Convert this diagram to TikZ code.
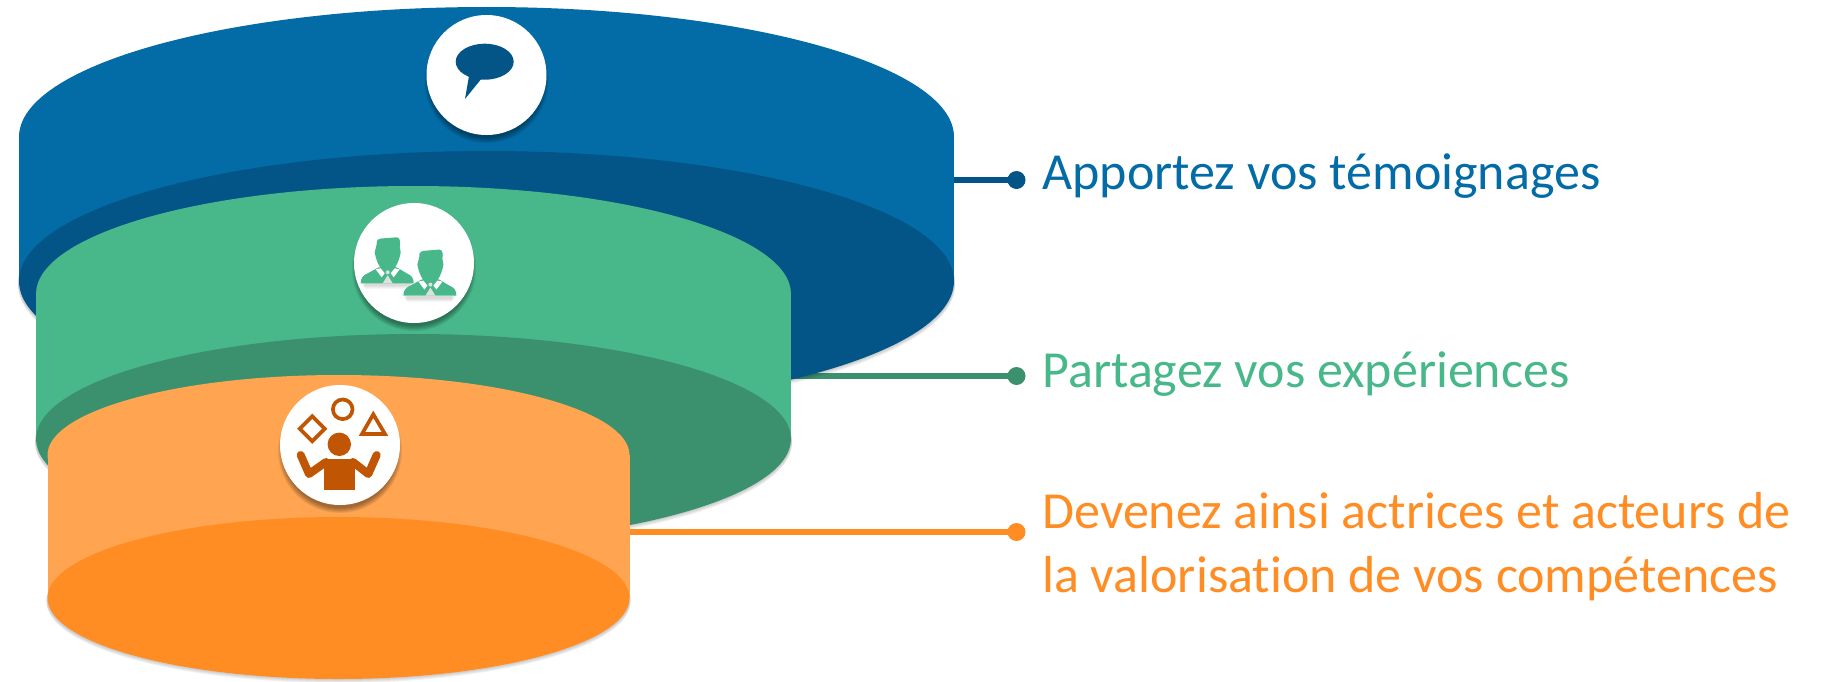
\documentclass[tikz,border=0pt]{standalone}
\usepackage{fontspec}
\setmainfont{Carlito}[Ligatures=NoCommon]
\usetikzlibrary{positioning}
\definecolor{blueA}{HTML}{036BA6}
\definecolor{blueB}{HTML}{045587}
\definecolor{greenA}{HTML}{48B88A}
\definecolor{greenB}{HTML}{3B916D}
\definecolor{orangeA}{HTML}{FFA552}
\definecolor{orangeB}{HTML}{FF8D24}
\definecolor{orangeC}{HTML}{C05504}
\tikzset{
  badge/.style={circle,fill=white,minimum size=60pt,inner sep=0pt},
  enddot/.style={circle,inner sep=0pt,outer sep=0pt,minimum size=9pt},
  lead/.style={line width=3pt},
  caption/.style={anchor=base west,inner sep=0pt,align=left,font=\fontsize{26}{32}\selectfont},
  toyline/.style={draw=orangeC,line width=1.85pt,fill=none},
  armline/.style={orangeC,line width=4pt,line cap=round,line join=round},
  pics/person/.style={code={
    \foreach \s in {1,2,3,4}{
      \fill[black,opacity=.035] (-27+\s,0) rectangle (26-\s,2+\s);
    }
    \fill[greenA] (-27,0) .. controls (-27,-5) and (-25,-8) .. (-20,-10) -- (-9,-16) -- (9,-16) -- (19,-10) .. controls (24,-8) and (26,-5) .. (26,0) -- cycle;
    \fill[greenA] (-11,-39) .. controls (-12,-44) and (-8,-45) .. (-4,-45) -- (9,-46) .. controls (12,-46) and (13,-42) .. (12,-37) -- (13,-31) .. controls (12,-25) and (10,-20) .. (8,-17) -- (7,-10) -- (-7,-10) -- (-8,-17) .. controls (-10,-20) and (-12,-25) .. (-13,-31) -- cycle;
    \fill[white] (-12,-14) -- (-7,-15) -- (-3,-10) -- (-6,-6) -- cycle;
    \fill[white] (12,-14) -- (7,-15) -- (3,-10) -- (6,-6) -- cycle;
    \fill[black!12] (0,-11) circle (2);
    \fill[black!12] (0,-8) -- (-5,0) -- (5,0) -- cycle;
  }},
}
% ombre douce sous les pastilles
\newcommand{\softshadow}[2]{
  \foreach \d in {0,1,...,5}{
    \fill[black,opacity=.07] (#1,#2+6) circle ({62-\d});
  }
}
% un tambour: cx, rx, haut, ry haut, bas, ry bas, couleurs
\newcommand{\drum}[8]{
  \foreach \s in {1,2,3,4}{
    \fill[black,opacity=.05] (#1,#5+\s) ellipse [x radius=#2+1,y radius=#6];
  }
  \fill[#7] (#1,#3) ellipse [x radius=#2,y radius=#4];
  \fill[#7] (#1-#2,#3) rectangle (#1+#2,#5);
  \fill[#8] (#1,#5) ellipse [x radius=#2,y radius=#6];
}
\begin{document}
\begin{tikzpicture}[x=0.5pt,y=-0.5pt]
\useasboundingbox (0,0) rectangle (1821,681);

% les traits passent sous les tambours
\node[enddot,fill=blueB] (dotA) at (1016.5,180) {};
\coordinate (startA) at (954,180);
\draw[lead,blueB] (startA) -- (dotA.center);
\node[enddot,fill=greenB] (dotB) at (1016.5,376) {};
\coordinate (startB) at (791,376);
\draw[lead,greenB] (startB) -- (dotB.center);
\node[enddot,fill=orangeB] (dotC) at (1016.5,532) {};
\coordinate (startC) at (629,532);
\draw[lead,orangeB] (startC) -- (dotC.center);

\drum{486.5}{467.5}{137}{130}{281}{130}{blueA}{blueB}
\drum{413.5}{377.5}{294}{108}{439}{105}{greenA}{greenB}
\drum{338.5}{291}{455}{80}{598}{81}{orangeA}{orangeB}

\node[caption,text=blueA] (textA) at (1042,189) {Apportez vos témoignages};
\node[caption,text=greenA] (textB) at (1042,387) {Partagez vos expériences};
\node[caption,text=orangeB] (textC) at (1042,528) {Devenez ainsi actrices et acteurs de};
\node[caption,text=orangeB] (textD) at (1042,592) {la valorisation de vos compétences};

\softshadow{486.5}{75}
\node[badge] (badgeA) at (486.5,75) {};
\fill[blueB] (484.7,61.7) ellipse [x radius=29,y radius=18];
\fill[blueB] (469,76) -- (465,99) -- (482,78) -- cycle;

\softshadow{414}{263}
\node[badge] (badgeB) at (414,263) {};
\pic at (387.7,283.3) {person};
\pic at (430.4,295.6) {person};

\softshadow{340}{445}
\node[badge] (badgeC) at (340,445) {};
\draw[toyline] (342.7,409.3) circle (9.8);
\draw[toyline] (312.3,416.2) -- (324.8,428.7) -- (312.3,441.2) -- (299.8,428.7) -- cycle;
\draw[toyline] (373.3,414.3) -- (385,434) -- (362,434) -- cycle;
\fill[orangeC] (339.3,444.3) circle (11.7);
\fill[orangeC] (324,459) rectangle (355,490);
\draw[armline] (300.7,455) -- (309,474) -- (326,462);
\draw[armline] (376.7,455) -- (368.3,474) -- (353,462);

\end{tikzpicture}
\end{document}
